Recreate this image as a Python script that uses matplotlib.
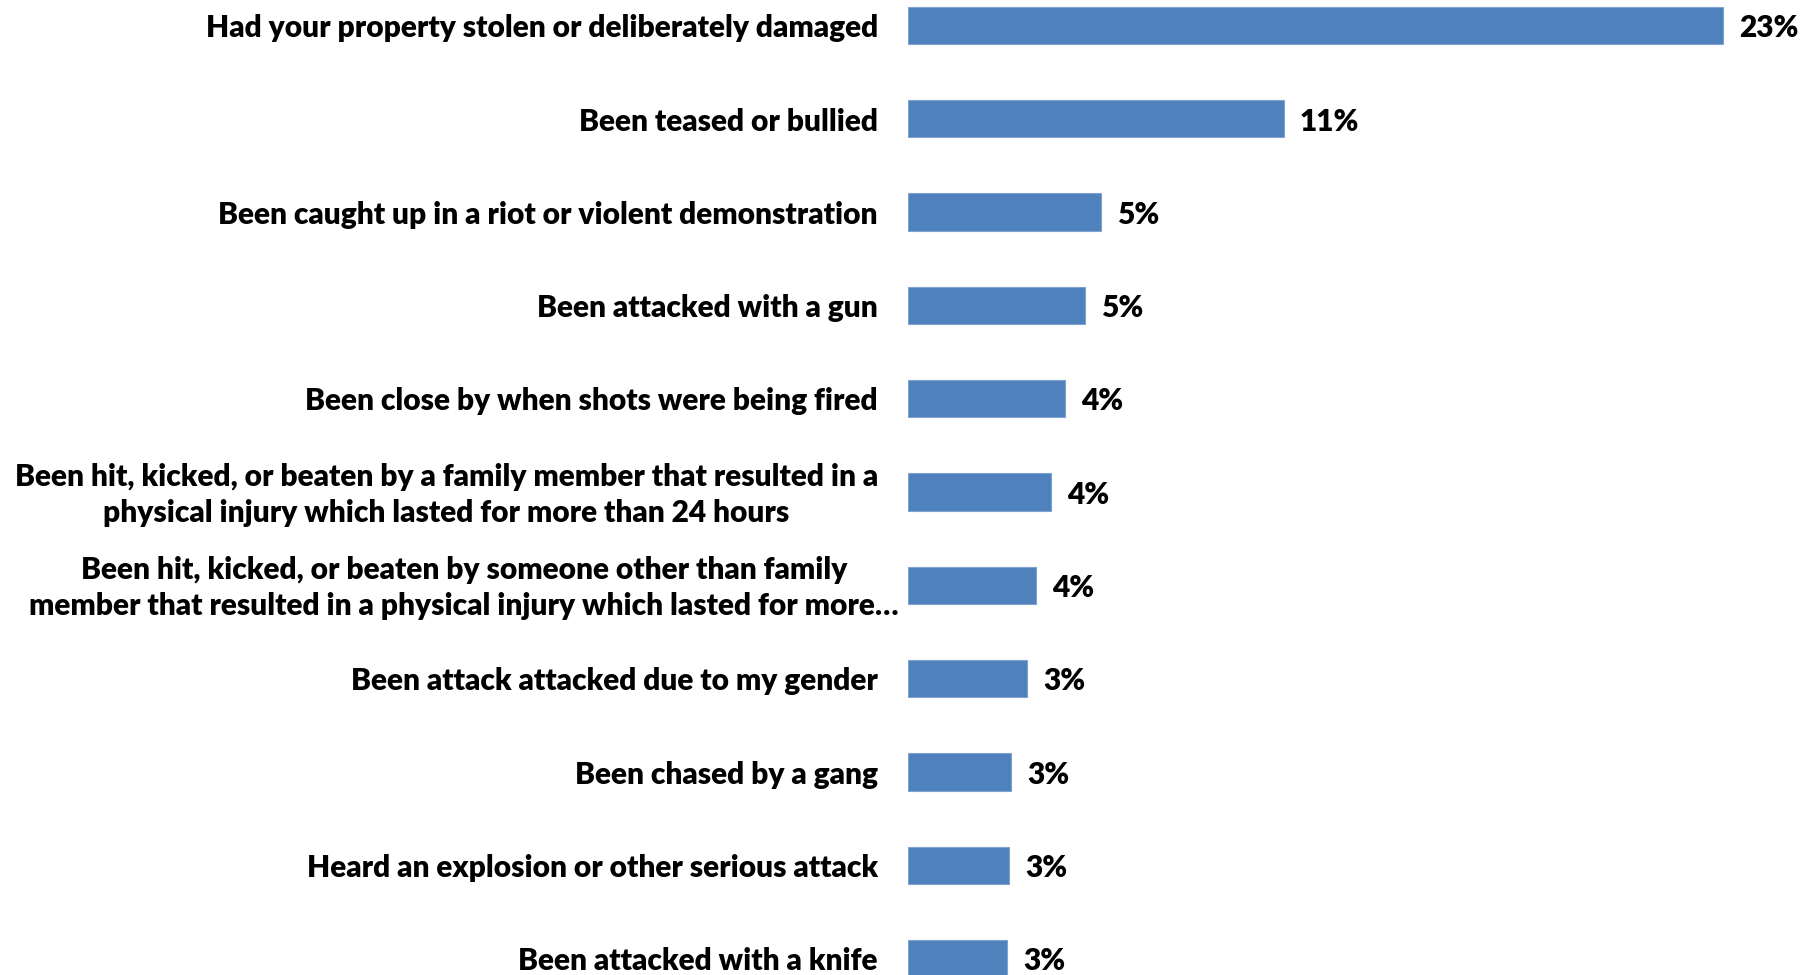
import matplotlib.pyplot as plt
import matplotlib.transforms as mtransforms
import numpy as np

categories = [
    "Had your property stolen or deliberately damaged",
    "Been teased or bullied",
    "Been caught up in a riot or violent demonstration",
    "Been attacked with a gun",
    "Been close by when shots were being fired",
    "Been hit, kicked, or beaten by a family member that resulted in a\nphysical injury which lasted for more than 24 hours",
    "Been hit, kicked, or beaten by someone other than family\nmember that resulted in a physical injury which lasted for more\u2026",
    "Been attack attacked due to my gender",
    "Been chased by a gang",
    "Heard an explosion or other serious attack",
    "Been attacked with a knife",
]
values = [23.0, 10.6, 5.44, 5.0, 4.44, 4.04, 3.62, 3.36, 2.91, 2.86, 2.79]
value_labels = ["23%", "11%", "5%", "5%", "4%", "4%", "4%", "3%", "3%", "3%", "3%"]

FONT = ['Lato', 'DejaVu Sans']
FS = 21.5

fig = plt.figure(figsize=(18.12, 9.75), dpi=100)
fig.patch.set_facecolor('white')
# axes starts where the bars start (x=908px) and fills the full height
ax = fig.add_axes([908 / 1812, 0, 1 - 908 / 1812, 1])

y = np.arange(len(categories))
ax.barh(y, values, height=0.4, color='#4F81BD', edgecolor='#7EA3D0', linewidth=0.8)

ax.set_xlim(0, 904 / 35.43)
ax.set_ylim((975 - 25.5) / 93.3, -25.5 / 93.3)
ax.axis('off')

# category labels, right aligned just left of the bars
trans = mtransforms.blended_transform_factory(ax.transAxes, ax.transData)
for i, cat in enumerate(categories):
    gap = 30 / 904
    if '\u2026' in cat:
        gap = 9 / 904
    ax.text(-gap, i + 0.03, cat, transform=trans, ha='right', va='center',
            multialignment='center', fontsize=FS, fontweight='heavy',
            family=FONT, color='black', linespacing=1.35)

# value labels
for i, (v, lab) in enumerate(zip(values, value_labels)):
    ax.annotate(lab, xy=(v, i + 0.03), xytext=(11.5, 0), textcoords='offset points',
                ha='left', va='center', fontsize=FS, fontweight='heavy',
                family=FONT, color='black')

fig.savefig('out.png', dpi=100, facecolor='white')
